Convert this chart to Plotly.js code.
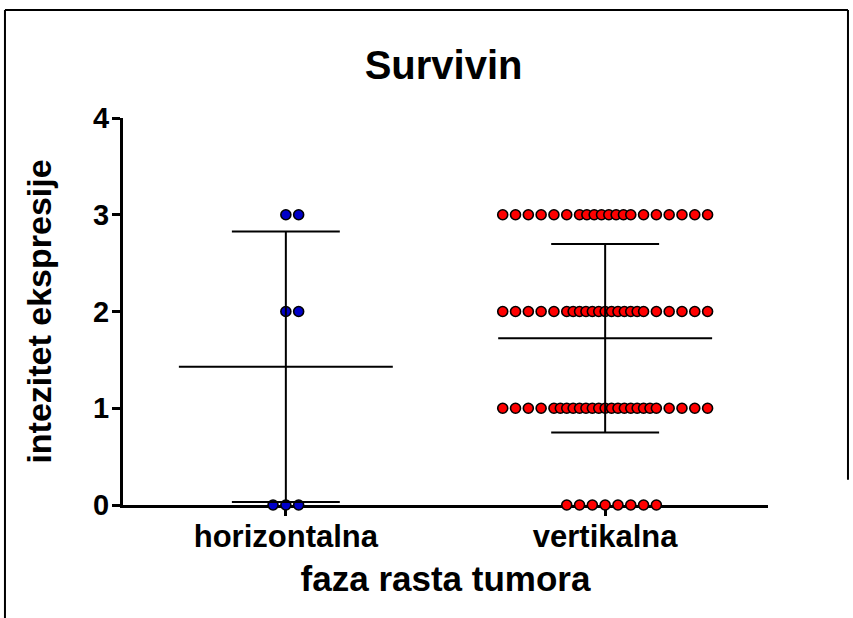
<!DOCTYPE html>
<html>
<head>
<meta charset="utf-8">
<script src="https://cdn.plot.ly/plotly-3.0.1.min.js"></script>
<style>
  html, body { margin: 0; padding: 0; background: #ffffff; }
  #chart { width: 853px; height: 618px; }
</style>
</head>
<body>
<div id="chart"></div>
<script>
// Survivin expression intensity by tumour growth phase
const categories = ['horizontalna', 'vertikalna'];
const scoreLevels = [0, 1, 2, 3];
// number of tumours at each score level (0, 1, 2, 3)
const horizontalnaCounts = [3, 0, 2, 2];
const vertikalnaCounts = [8, 25, 23, 20];
const yTicks = [0, 1, 2, 3, 4];

const groupCounts = [horizontalnaCounts, vertikalnaCounts];
const groupColors = ['#0000c8', '#ff0000'];

// horizontal spacing of dots inside a row, in x-axis units
const SLOT = 0.0401;
const MAX_SLOT = 8;

// positions of n dots in one row: regular spacing, compressed in the middle when crowded
function rowOffsets(n) {
  const out = [];
  if (n <= 2 * MAX_SLOT + 1) {
    const start = -Math.floor((n - 1) / 2);
    for (let i = 0; i < n; i++) out.push(start + i);
    return out;
  }
  const k = Math.max(0, Math.floor((33 - n) / 2));
  for (let i = 0; i < k; i++) out.push(-MAX_SLOT + i);
  const a = -MAX_SLOT + k, b = MAX_SLOT - k, m = n - 2 * k;
  for (let i = 0; i < m; i++) out.push(a + (b - a) * i / (m - 1));
  for (let i = k - 1; i >= 0; i--) out.push(MAX_SLOT - i);
  return out;
}

function expand(counts) {
  const vals = [];
  counts.forEach((c, j) => { for (let i = 0; i < c; i++) vals.push(scoreLevels[j]); });
  return vals;
}

function meanSd(vals) {
  const n = vals.length;
  const m = vals.reduce((s, v) => s + v, 0) / n;
  const v = vals.reduce((s, x) => s + (x - m) * (x - m), 0) / (n - 1);
  return [m, Math.sqrt(v)];
}

const traces = [];
const lineX = [], lineY = [];
const MEAN_HALF = 0.335, CAP_HALF = 0.169;

groupCounts.forEach((counts, g) => {
  const xs = [], ys = [];
  counts.forEach((c, j) => {
    rowOffsets(c).forEach(o => { xs.push(g + o * SLOT); ys.push(scoreLevels[j]); });
  });
  traces.push({
    type: 'scatter', mode: 'markers', x: xs, y: ys, cliponaxis: false,
    hoverinfo: 'y',
    marker: { size: 10, color: groupColors[g], line: { color: '#000000', width: 1.6 } }
  });
  const [m, sd] = meanSd(expand(counts));
  lineX.push(g - MEAN_HALF, g + MEAN_HALF, null);
  lineY.push(m, m, null);
  lineX.push(g, g, null);
  lineY.push(m - sd, m + sd, null);
  lineX.push(g - CAP_HALF, g + CAP_HALF, null);
  lineY.push(m + sd, m + sd, null);
  lineX.push(g - CAP_HALF, g + CAP_HALF, null);
  lineY.push(m - sd, m - sd, null);
});

traces.push({
  type: 'scatter', mode: 'lines', x: lineX, y: lineY, cliponaxis: false,
  hoverinfo: 'skip', line: { color: '#000000', width: 2 }
});

const FONT = 'Liberation Sans, Arial, sans-serif';
const frame = { color: '#000000', width: 2 };

const layout = {
  width: 853, height: 618,
  margin: { l: 123, r: 85, t: 118, b: 113, pad: 0 },
  paper_bgcolor: '#ffffff', plot_bgcolor: '#ffffff',
  showlegend: false,
  font: { family: FONT, color: '#000000', weight: 'bold' },
  title: {
    text: 'Survivin', font: { family: FONT, size: 40, weight: 'bold', color: '#000000' },
    x: 0.52, xanchor: 'center', y: 0.895, yanchor: 'middle'
  },
  xaxis: {
    range: [-0.51, 1.51], tickvals: [0, 1], ticktext: categories,
    showline: true, linewidth: 3, linecolor: '#000000',
    ticks: 'outside', ticklen: 8, tickwidth: 3, tickcolor: '#000000',
    ticklabelstandoff: -6,
    showgrid: false, zeroline: false, layer: 'below traces',
    tickfont: { family: FONT, size: 31, weight: 'bold', color: '#000000' },
    title: { text: 'faza rasta tumora', standoff: 14,
             font: { family: FONT, size: 35, weight: 'bold', color: '#000000' } }
  },
  yaxis: {
    range: [0, 4], tickvals: yTicks,
    showline: true, linewidth: 3, linecolor: '#000000',
    ticks: 'outside', ticklen: 8, tickwidth: 3, tickcolor: '#000000',
    ticklabelstandoff: -3,
    showgrid: false, zeroline: false, layer: 'below traces',
    tickfont: { family: FONT, size: 29, weight: 'bold', color: '#000000' },
    title: { text: 'intezitet ekspresije', standoff: 32,
             font: { family: FONT, size: 34, weight: 'bold', color: '#000000' } }
  },
  shapes: [
    { type: 'line', xref: 'paper', yref: 'paper', x0: -0.183, x1: 1.124, y0: 1.279, y1: 1.279, line: frame },
    { type: 'line', xref: 'paper', yref: 'paper', x0: -0.183, x1: -0.183, y0: 1.279, y1: -0.3, line: frame },
    { type: 'line', xref: 'paper', yref: 'paper', x0: 1.124, x1: 1.124, y0: 1.279, y1: 0.065, line: frame }
  ]
};

Plotly.newPlot('chart', traces, layout, { displayModeBar: false, staticPlot: true });
</script>
</body>
</html>
